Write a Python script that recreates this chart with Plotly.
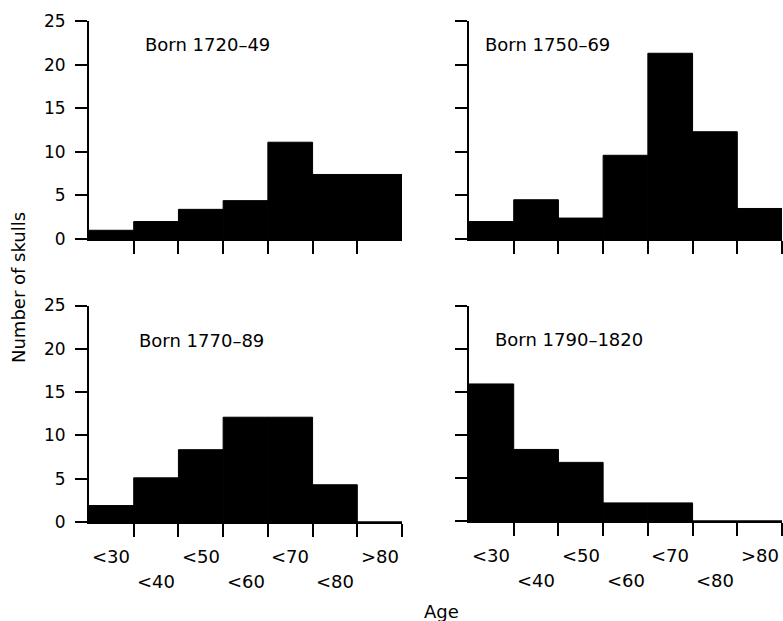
import plotly.graph_objects as go

# ---- data ----
bin_centers = [25, 35, 45, 55, 65, 75, 85]
bin_edges = [30, 40, 50, 60, 70, 80, 90]
age_labels = ["<30", "<40", "<50", "<60", "<70", "<80", ">80"]
y_ticks = [0, 5, 10, 15, 20, 25]

titles = ["Born 1720–49", "Born 1750–69", "Born 1770–89", "Born 1790–1820"]
born_1720_49 = [1.0, 2.0, 3.4, 4.4, 11.1, 7.4, 7.4]
born_1750_69 = [2.0, 4.5, 2.4, 9.6, 21.3, 12.3, 3.5]
born_1770_89 = [1.9, 5.1, 8.35, 12.1, 12.1, 4.3, 0]
born_1790_1820 = [15.9, 8.3, 6.8, 2.1, 2.1, 0, 0]
series = [born_1720_49, born_1750_69, born_1770_89, born_1790_1820]

W, H = 783, 621
OFF = 0  # page body margin removed below, figure sits at the window origin
FONT = "DejaVu Sans"

fig = go.Figure()

# panel geometry in window pixels (left, right, top, bottom)
panels = [
    (89, 402, 21, 239),
    (469, 782, 21, 239),
    (89, 402, 305.5, 522),
    (469, 782, 305.5, 521),
]
title_pos = [(0.1725, 0.89), (0.045, 0.892), (0.153, 0.84), (0.076, 0.84)]
# the first panel shows no tick at its right end
edge_ticks = [bin_edges[:-1], bin_edges, bin_edges, bin_edges]


def fx(px):
    return (px - OFF) / W


def fy(py):
    return 1 - (py - OFF) / H


for i, (vals, (l, r, t, b)) in enumerate(zip(series, panels)):
    n = i + 1
    xa = "x" if n == 1 else f"x{n}"
    ya = "y" if n == 1 else f"y{n}"
    fig.add_trace(go.Bar(
        x=bin_centers, y=vals, width=10,
        marker=dict(color="black", line=dict(color="black", width=1)),
        xaxis=xa, yaxis=ya, showlegend=False, hoverinfo="skip",
    ))
    xkey = "xaxis" if n == 1 else f"xaxis{n}"
    ykey = "yaxis" if n == 1 else f"yaxis{n}"
    fig.layout[xkey] = dict(
        domain=[fx(l), fx(r)], anchor=ya, range=[20, 90], automargin=False,
        showgrid=False, zeroline=False, showline=True, linecolor="black", linewidth=2,
        tickmode="array", tickvals=edge_ticks[i], ticks="outside", ticklen=13,
        tickwidth=2, tickcolor="black", showticklabels=False, fixedrange=True,
    )
    fig.layout[ykey] = dict(
        domain=[fy(b), fy(t)], anchor=xa, range=[0, 25], automargin=False,
        showgrid=False, zeroline=False, showline=True, linecolor="black", linewidth=2,
        tickmode="array", tickvals=y_ticks, ticks="outside", ticklen=12,
        tickwidth=2, tickcolor="black", showticklabels=(n in (1, 3)),
        ticklabelstandoff=6,
        tickfont=dict(family=FONT, size=17, color="black"), fixedrange=True,
    )
    # panel title
    tx, ty = title_pos[i]
    fig.add_annotation(
        text=titles[i], xref=f"{xa} domain", yref=f"{ya} domain",
        x=tx, y=ty, xanchor="left", yanchor="middle", showarrow=False,
        font=dict(family=FONT, size=18, color="black"),
    )
    # staggered age labels on bottom panels
    if n in (3, 4):
        for k, (c, lab) in enumerate(zip(bin_centers, age_labels)):
            fig.add_annotation(
                text=lab, xref=xa, yref=f"{ya} domain", x=c, y=0,
                yshift=(-34 if k % 2 == 0 else -59), xanchor="center", yanchor="middle",
                showarrow=False, font=dict(family=FONT, size=18, color="black"),
            )

fig.add_annotation(
    text="Number of skulls", xref="paper", yref="paper",
    x=fx(18), y=fy(288), textangle=-90, showarrow=False,
    xanchor="center", yanchor="middle",
    font=dict(family=FONT, size=18, color="black"),
)
fig.add_annotation(
    text="Age", xref="paper", yref="paper",
    x=fx(441), y=fy(611), showarrow=False,
    xanchor="center", yanchor="middle",
    font=dict(family=FONT, size=18, color="black"),
)

fig.update_layout(
    width=W, height=H, margin=dict(l=0, r=0, t=0, b=0, autoexpand=False),
    paper_bgcolor="white", plot_bgcolor="white", bargap=0,
    font=dict(family=FONT, color="black"),
)

fig.write_html(
    "out.html",
    config={"displayModeBar": False, "staticPlot": True},
    post_script="document.body.style.margin='0';document.body.style.overflow='hidden';",
)
